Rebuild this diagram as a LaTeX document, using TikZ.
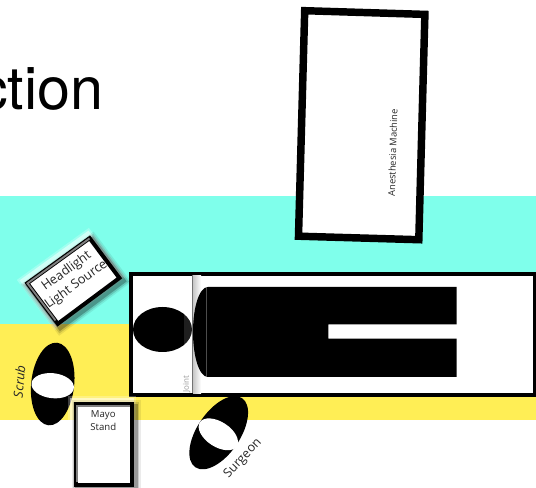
\documentclass[tikz,border=0pt]{standalone}
\usepackage{fontspec}
\setmainfont{Open Sans}
\newfontfamily\titlefont{TeX Gyre Heros}
\definecolor{bandcyan}{RGB}{127,255,235}
\definecolor{bandyellow}{RGB}{255,238,85}
\tikzset{every picture/.style={line width=0.75pt}}
\tikzset{
  softglow/.style={preaction={draw=white,opacity=.25,line width=9pt,transform canvas={shift={(-1.5pt,1.5pt)}}},
    preaction={draw=white,opacity=.5,line width=6pt,transform canvas={shift={(-1.5pt,1.5pt)}}}},
  softshadow/.style={preaction={draw=black,opacity=.08,line width=10pt,transform canvas={shift={(2pt,-2pt)}}},
    preaction={draw=black,opacity=.14,line width=7.5pt,transform canvas={shift={(2pt,-2pt)}}},
    preaction={draw=black,opacity=.25,line width=5pt,transform canvas={shift={(2pt,-2pt)}}}},
  boxframe/.style={draw=black,fill=white,line width=3pt,line join=miter},
  inneredge/.style={draw=black!50,line width=1.4pt},
  person/.style={fill=black,draw=none},
  smalllabel/.style={inner sep=0.75pt,font=\fontsize{7}{9.6}\selectfont,text=black!85,align=center},
}

\begin{document}
\begin{tikzpicture}[x=0.75pt,y=0.75pt,yscale=-1,xscale=1]
\useasboundingbox (0,0) rectangle (536,488);

%Shape: Rectangle [bands]
\fill [bandcyan] (0,196) rectangle (536,324);
\fill [bandyellow] (0,324) rectangle (536,420);

% Text Node
\draw (104,110) node (title) [anchor=base east,inner sep=0pt,font=\titlefont\fontsize{44.5}{50}\selectfont]  {ction};

%Shape: Polygon [machine]
\draw [fill=white,draw=black,line width=5.6pt,line join=miter] (304.7,10.7) -- (424.9,14.4) -- (418.8,239.7) -- (298.5,236.2) -- cycle ;
% Text Node
\draw (392.7,152.7) node (machine) [smalllabel,rotate=88.3]  {Anesthesia Machine};

%Shape: Polygon [headlight]
\draw [boxframe,softglow,softshadow] (89.6,238.2) -- (119.4,278) -- (57.8,323.8) -- (27.3,283.2) -- cycle ;
\draw [inneredge] (55.5,320.5) -- (27.5,283.3) -- (89.5,238.5) ;
% Text Node
\draw (71.5,278) node (headlight) [smalllabel,rotate=36,font=\fontsize{9.6}{12.4}\selectfont]  {Headlight\\Light Source};

%Shape: Rectangle [table]
\draw [fill=white,draw=black,line width=3pt] (131,274) rectangle (534.5,395) ;
\fill [left color=black!22,right color=white] (193,275.5) rectangle (201,393.5) ;
\draw [black!55] (192.6,275.5) -- (192.6,393.5) ;

%Shape: Ellipse [head]
\fill [person] (162.5,329.5) ellipse [x radius=29.5,y radius=22.5] ;
\fill [white,opacity=.12] (184,310) rectangle (192,349) ;

%Shape: Polygon [body]
\fill [person] (208,287) .. controls (199,287) and (193,308) .. (193,332) .. controls (193,356) and (199,377) .. (208,377) -- (456.7,377) -- (456.7,338.7) -- (328.3,338.7) -- (328.3,324.3) -- (456.7,324.3) -- (456.7,287) -- cycle ;
\draw [black!70!white] (206.7,288) -- (206.7,376) ;

% Text Node
\draw (186.7,384) node (joint) [smalllabel,rotate=90,text=black!40,font=\fontsize{6}{6}\selectfont]  {Joint};

%Shape: Ellipse [scrub]
\fill [person,rotate around={-84:(52.7,384)}] (52.7,384) ellipse [x radius=41.5,y radius=21.5] ;
\fill [white,rotate around={6.5:(52.7,385.7)}] (52.7,385.7) ellipse [x radius=21.3,y radius=12.5] ;
% Text Node
\draw (19.3,381.7) node (scrub) [smalllabel,rotate=85,font=\itshape\fontsize{9.6}{10}\selectfont]  {Scrub};

%Shape: Rectangle [mayo]
\draw [boxframe,softglow,softshadow] (75.5,404.5) rectangle (131.5,484.8) ;
\draw [inneredge] (77,482.5) -- (77,406) -- (129.5,406) ;
% Text Node
\draw (103.3,420.7) node (mayo) [smalllabel,font=\fontsize{7.2}{9.6}\selectfont]  {Mayo\\Stand};

%Shape: Ellipse [surgeon]
\fill [person,rotate around={-56:(218.7,432.7)}] (218.7,432.7) ellipse [x radius=41.7,y radius=21.5] ;
\fill [white,rotate around={33:(218.3,434.3)}] (218.3,434.3) ellipse [x radius=22,y radius=12.5] ;
% Text Node
\draw (243,458.5) node (surgeon) [smalllabel,rotate=47,font=\fontsize{9.4}{10}\selectfont]  {Surgeon};

\end{tikzpicture}
\end{document}
